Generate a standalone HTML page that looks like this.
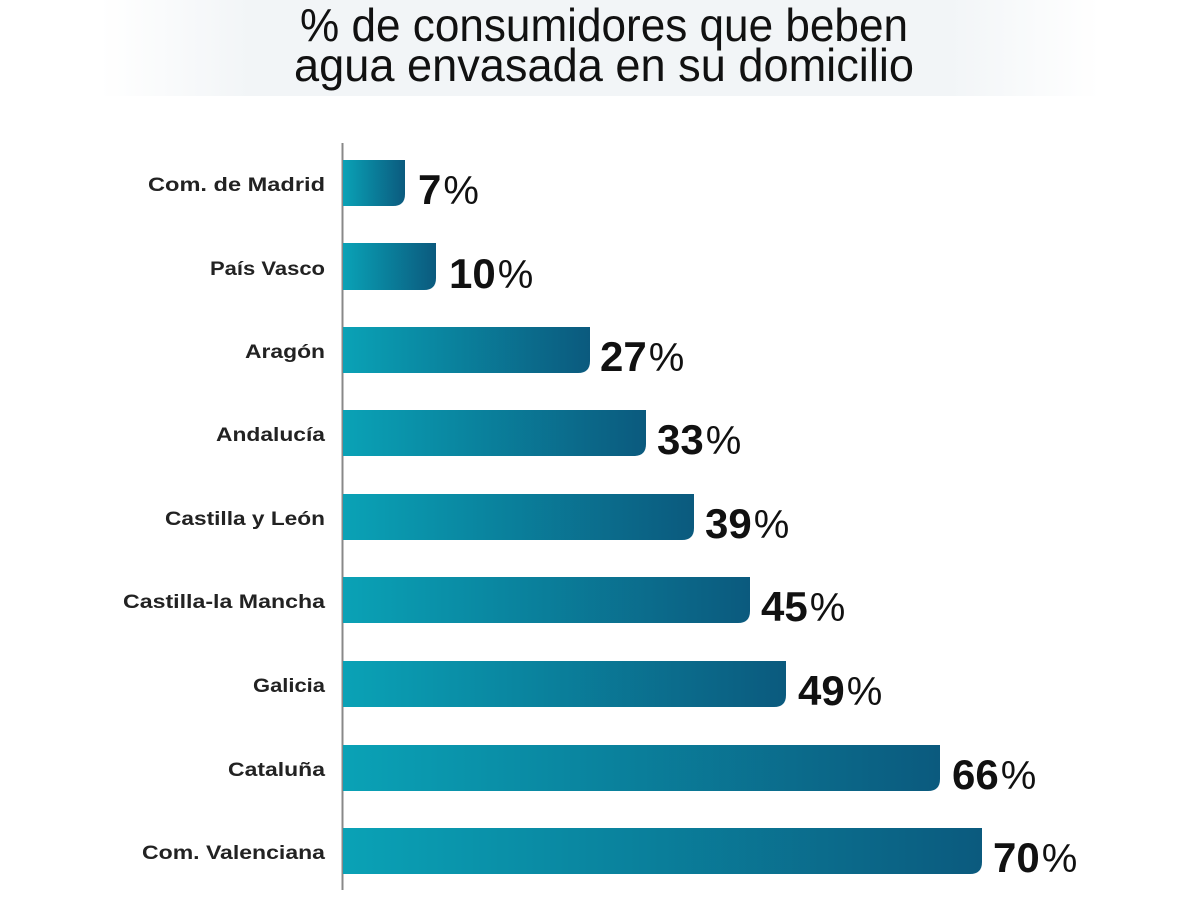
<!DOCTYPE html>
<html><head><meta charset="utf-8"><style>html,body{margin:0;padding:0;background:#fff}</style></head>
<body>
<svg width="1200" height="900" xmlns="http://www.w3.org/2000/svg" font-family="Liberation Sans, sans-serif">
<defs>
<linearGradient id="g" x1="0" x2="1" y1="0" y2="0">
<stop offset="0" stop-color="#0aa2b6"/><stop offset="1" stop-color="#0b5a7e"/>
</linearGradient>
<linearGradient id="bg" x1="0" x2="1">
<stop offset="0" stop-color="#fff"/><stop offset="0.15" stop-color="#f2f5f7"/><stop offset="0.85" stop-color="#f2f5f7"/><stop offset="1" stop-color="#fff"/>
</linearGradient>
</defs>
<rect x="100" y="0" width="1000" height="96" fill="url(#bg)"/>
<text x="604" y="41" text-anchor="middle" font-size="46" fill="#111" textLength="608" lengthAdjust="spacingAndGlyphs">% de consumidores que beben</text>
<text x="604" y="81" text-anchor="middle" font-size="46" fill="#111" textLength="620" lengthAdjust="spacingAndGlyphs">agua envasada en su domicilio</text>
<line x1="342.5" y1="143" x2="342.5" y2="890" stroke="#888" stroke-width="2"/>
<g font-weight="bold" font-size="19" fill="#222" text-anchor="end">
<text x="325" y="191" textLength="177" lengthAdjust="spacingAndGlyphs">Com. de Madrid</text>
<text x="325" y="275" textLength="115" lengthAdjust="spacingAndGlyphs">País Vasco</text>
<text x="325" y="358" textLength="80" lengthAdjust="spacingAndGlyphs">Aragón</text>
<text x="325" y="441" textLength="109" lengthAdjust="spacingAndGlyphs">Andalucía</text>
<text x="325" y="525" textLength="160" lengthAdjust="spacingAndGlyphs">Castilla y León</text>
<text x="325" y="608" textLength="202" lengthAdjust="spacingAndGlyphs">Castilla-la Mancha</text>
<text x="325" y="692" textLength="72" lengthAdjust="spacingAndGlyphs">Galicia</text>
<text x="325" y="776" textLength="97" lengthAdjust="spacingAndGlyphs">Cataluña</text>
<text x="325" y="859" textLength="183" lengthAdjust="spacingAndGlyphs">Com. Valenciana</text>
</g>
<g fill="url(#g)">
<path d="M343 160 H405 V194 Q405 206 393 206 H343 Z"/>
<path d="M343 243 H436 V278 Q436 290 424 290 H343 Z"/>
<path d="M343 327 H590 V361 Q590 373 578 373 H343 Z"/>
<path d="M343 410 H646 V444 Q646 456 634 456 H343 Z"/>
<path d="M343 494 H694 V528 Q694 540 682 540 H343 Z"/>
<path d="M343 577 H750 V611 Q750 623 738 623 H343 Z"/>
<path d="M343 661 H786 V695 Q786 707 774 707 H343 Z"/>
<path d="M343 745 H940 V779 Q940 791 928 791 H343 Z"/>
<path d="M343 828 H982 V862 Q982 874 970 874 H343 Z"/>
</g>
<g font-size="42" fill="#111">
<text x="418" y="204"><tspan font-weight="bold">7</tspan><tspan font-size="40" dx="2">%</tspan></text>
<text x="449" y="288"><tspan font-weight="bold">10</tspan><tspan font-size="40" dx="2">%</tspan></text>
<text x="600" y="371"><tspan font-weight="bold">27</tspan><tspan font-size="40" dx="2">%</tspan></text>
<text x="657" y="454"><tspan font-weight="bold">33</tspan><tspan font-size="40" dx="2">%</tspan></text>
<text x="705" y="538"><tspan font-weight="bold">39</tspan><tspan font-size="40" dx="2">%</tspan></text>
<text x="761" y="621"><tspan font-weight="bold">45</tspan><tspan font-size="40" dx="2">%</tspan></text>
<text x="798" y="705"><tspan font-weight="bold">49</tspan><tspan font-size="40" dx="2">%</tspan></text>
<text x="952" y="789"><tspan font-weight="bold">66</tspan><tspan font-size="40" dx="2">%</tspan></text>
<text x="993" y="872"><tspan font-weight="bold">70</tspan><tspan font-size="40" dx="2">%</tspan></text>
</g>
</svg>
</body></html>
